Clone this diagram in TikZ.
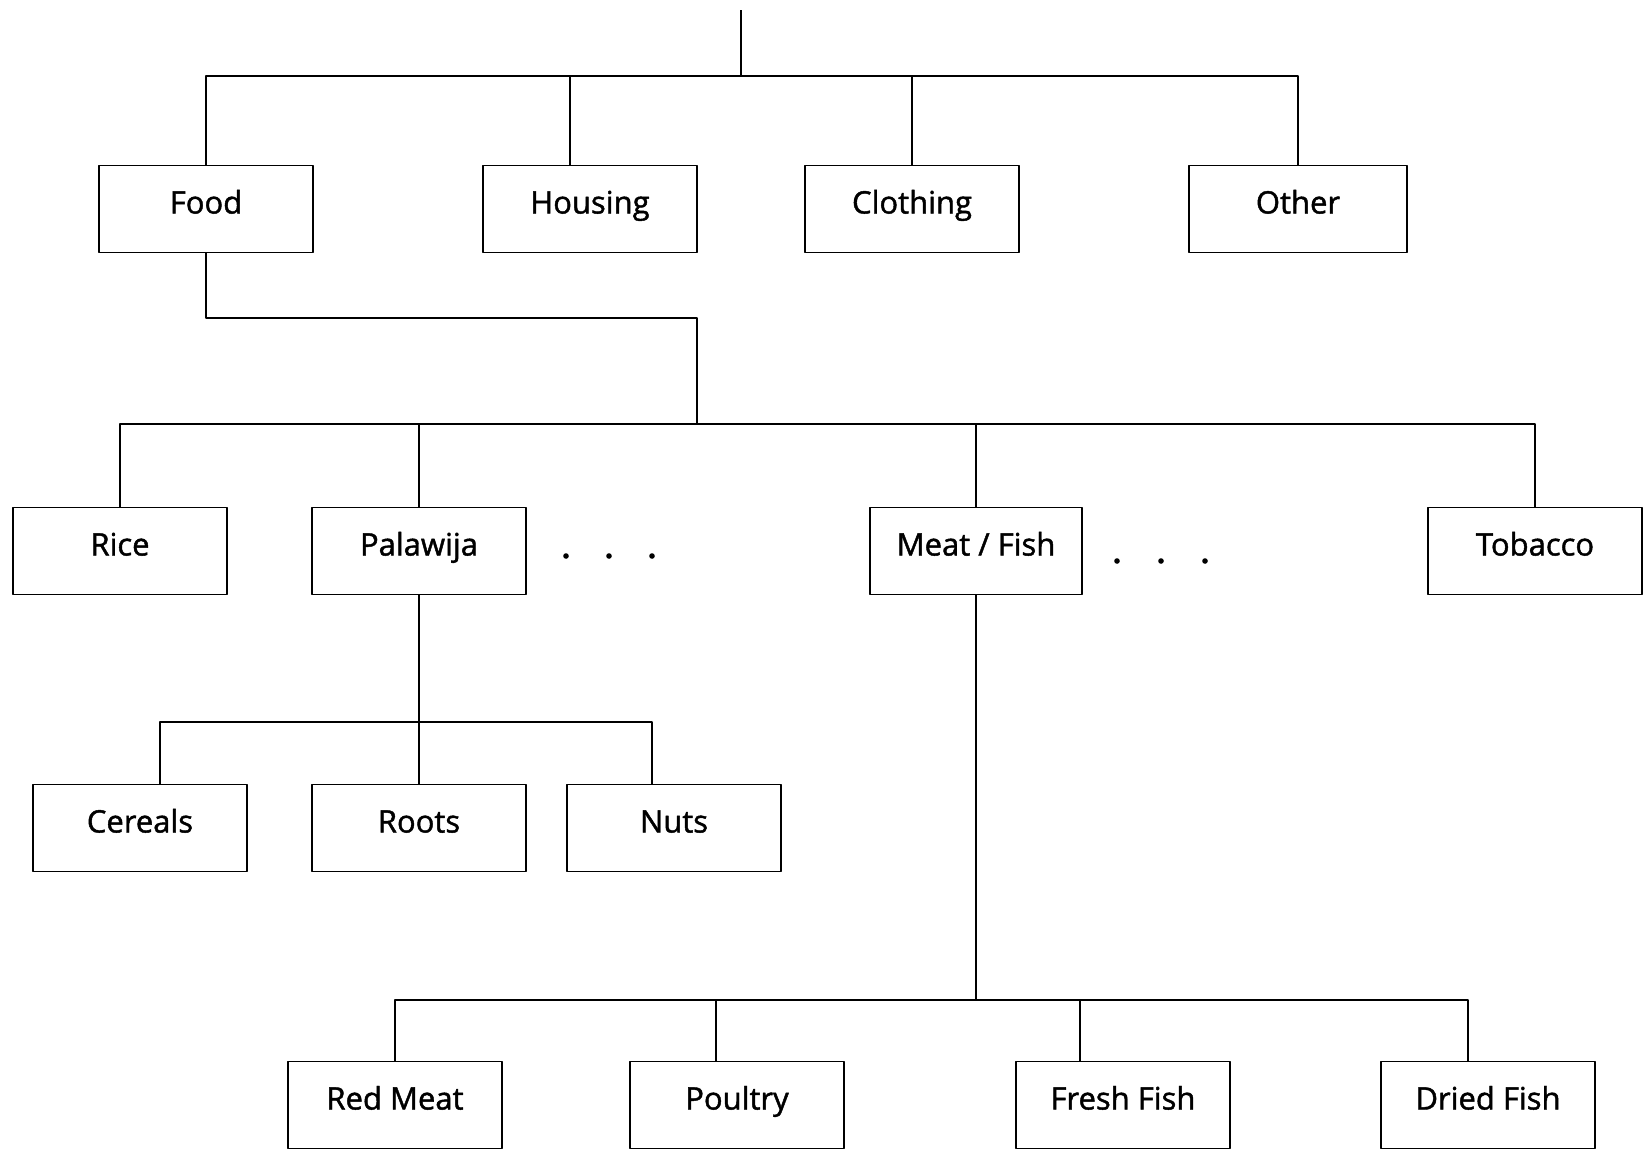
\documentclass[tikz,border=0pt]{standalone}
\usepackage{fontspec}
\setmainfont{Open Sans}
\newfontfamily\boxfont{Open Sans}[FakeBold=1.4]
\begin{document}
\begin{tikzpicture}[x=1pt,y=-1pt,line width=1.9pt,line join=round,
	box/.style={draw,minimum width=214pt,minimum height=87pt,inner sep=0pt,
		text height=22pt,text depth=13pt,font=\boxfont\fontsize{31}{36}\selectfont}]
	\useasboundingbox (0,0) rectangle (1646,1149);
	\def\ya{209} \def\yb{551} \def\yc{828} \def\yd{1105} % box rows
	% first row
	\node[box] (food) at (206,\ya) {Food};
	\node[box] (housing) at (590,\ya) {Housing};
	\node[box] (clothing) at (912,\ya) {Clothing};
	\node[box,minimum width=218pt] (other) at (1298,\ya) {Other};
	% second row
	\node[box] (rice) at (120,\yb) {Rice};
	\node[box] (palawija) at (419,\yb) {Palawija};
	\node[box,minimum width=212pt] (meatfish) at (976,\yb) {Meat / Fish};
	\node[box] (tobacco) at (1535,\yb) {Tobacco};
	% palawija row
	\node[box] (cereals) at (140,\yc) {Cereals};
	\node[box] (roots) at (419,\yc) {Roots};
	\node[box] (nuts) at (674,\yc) {Nuts};
	% meat/fish row
	\node[box] (redmeat) at (395,\yd) {Red Meat};
	\node[box] (poultry) at (737,\yd) {Poultry};
	\node[box] (freshfish) at (1123,\yd) {Fresh Fish};
	\node[box] (driedfish) at (1488,\yd) {Dried Fish};
	% connectors
	\coordinate (root) at (741,10);
	\coordinate (j1) at (741,76);
	\coordinate (k) at (697,318);
	\coordinate (j2) at (697,424);
	\coordinate (j3) at (419,722);
	\coordinate (j4) at (976,1000);
	\draw (root)--(j1);
	\draw (food.north) |- (j1) -| (other.north);
	\draw ([xshift=-20pt]housing.north)--([xshift=-20pt]housing.north |- j1);
	\draw (clothing.north)--(clothing.north |- j1);
	\draw (food.south) |- (k)--(j2);
	\draw (rice.north) |- (j2) -| (tobacco.north);
	\draw (palawija.north)--(palawija.north |- j2);
	\draw (meatfish.north)--(meatfish.north |- j2);
	\draw (palawija.south)--(roots.north);
	\draw ([xshift=20pt]cereals.north) |- (j3) -| ([xshift=-22pt]nuts.north);
	\draw (meatfish.south)--(j4);
	\draw (redmeat.north) |- (j4) -| ([xshift=-20pt]driedfish.north);
	\draw ([xshift=-21pt]poultry.north)--([xshift=-21pt]poultry.north |- j4);
	\draw ([xshift=-43pt]freshfish.north)--([xshift=-43pt]freshfish.north |- j4);
	% dots
	\foreach \i in {0,1,2} {
		\fill (566+43*\i,556) circle (2.8pt);
		\fill (1117+44*\i,561) circle (2.8pt);
	}
\end{tikzpicture}
\end{document}
